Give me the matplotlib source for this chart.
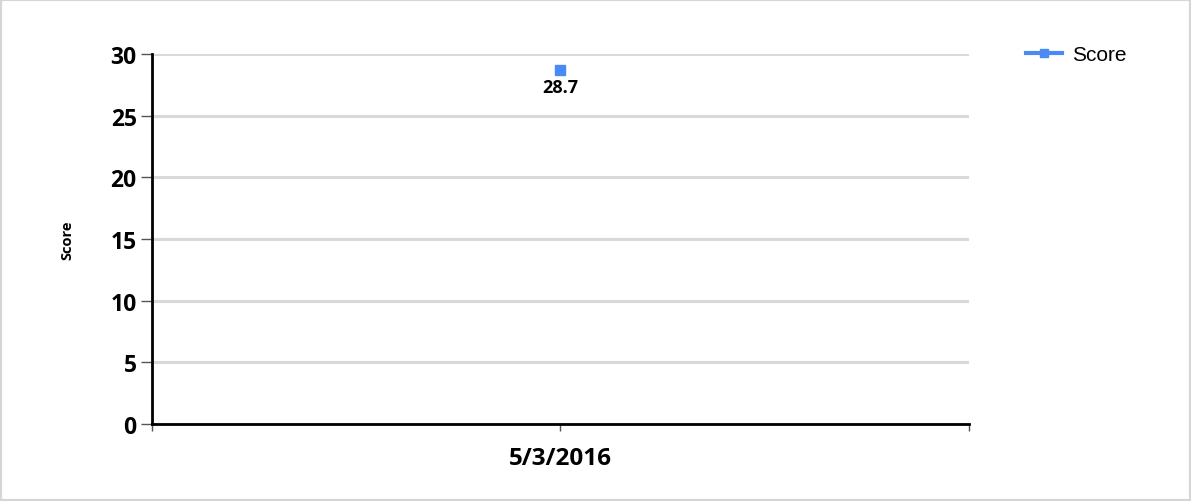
import matplotlib.pyplot as plt
from matplotlib.patches import Rectangle

# data
dates = ["5/3/2016"]
scores = [28.7]
y_ticks = [0, 5, 10, 15, 20, 25, 30]

blue = "#4a8af4"
grid_grey = "#d9d9d9"

fig = plt.figure(figsize=(11.91, 5.02), dpi=100)
ax = fig.add_axes([0.1276, 0.1534, 0.686, 0.737])

x = list(range(len(dates)))
ax.plot(x, scores, color=blue, lw=3, marker="s", ms=7, label="Score", zorder=3)
for xi, v in zip(x, scores):
    ax.annotate(f"{v}", (xi, v), xytext=(0, -6), textcoords="offset points",
                ha="center", va="top", fontsize=13, fontweight="bold",
                family="Open Sans", zorder=4)

ax.set_xlim(-0.5, len(dates) - 0.5)
ax.set_ylim(0, 30)
ax.set_yticks(y_ticks)
ax.set_yticklabels([str(t) for t in y_ticks], fontsize=16.5, fontweight="bold", family="Open Sans")

# category boundaries get the ticks, labels sit at the centres
ax.set_xticks([i - 0.5 for i in range(len(dates) + 1)], minor=False)
ax.set_xticklabels([""] * (len(dates) + 1))
ax.set_xticks(x, minor=True)
ax.set_xticklabels(dates, minor=True, fontsize=17.5, fontweight="bold", family="Open Sans")
ax.tick_params(axis="x", which="major", length=5, width=1, color="#555555")
ax.tick_params(axis="x", which="minor", length=5, width=1, color="#555555", pad=11)
ax.tick_params(axis="y", length=8, width=1, color="#555555", pad=3)

ax.grid(axis="y", color=grid_grey, lw=2.2)
ax.set_axisbelow(True)
for s in ["top", "right"]:
    ax.spines[s].set_visible(False)
for s in ["left", "bottom"]:
    ax.spines[s].set_linewidth(2)
    ax.spines[s].set_color("black")
    ax.spines[s].set_zorder(5)

ax.set_ylabel("Score", fontsize=10.5, fontweight="bold", family="Open Sans", labelpad=26)

leg = fig.legend(loc="upper left", bbox_to_anchor=(0.846, 0.946), frameon=False,
                 prop={"family": "Liberation Sans", "size": 15}, handlelength=1.7,
                 handletextpad=0.5, markerscale=0.9)

fig.add_artist(Rectangle((0, 0), 1, 1, transform=fig.transFigure, fill=False,
                         edgecolor="#d6d6d6", lw=3))

fig.savefig("out.png", dpi=100)
